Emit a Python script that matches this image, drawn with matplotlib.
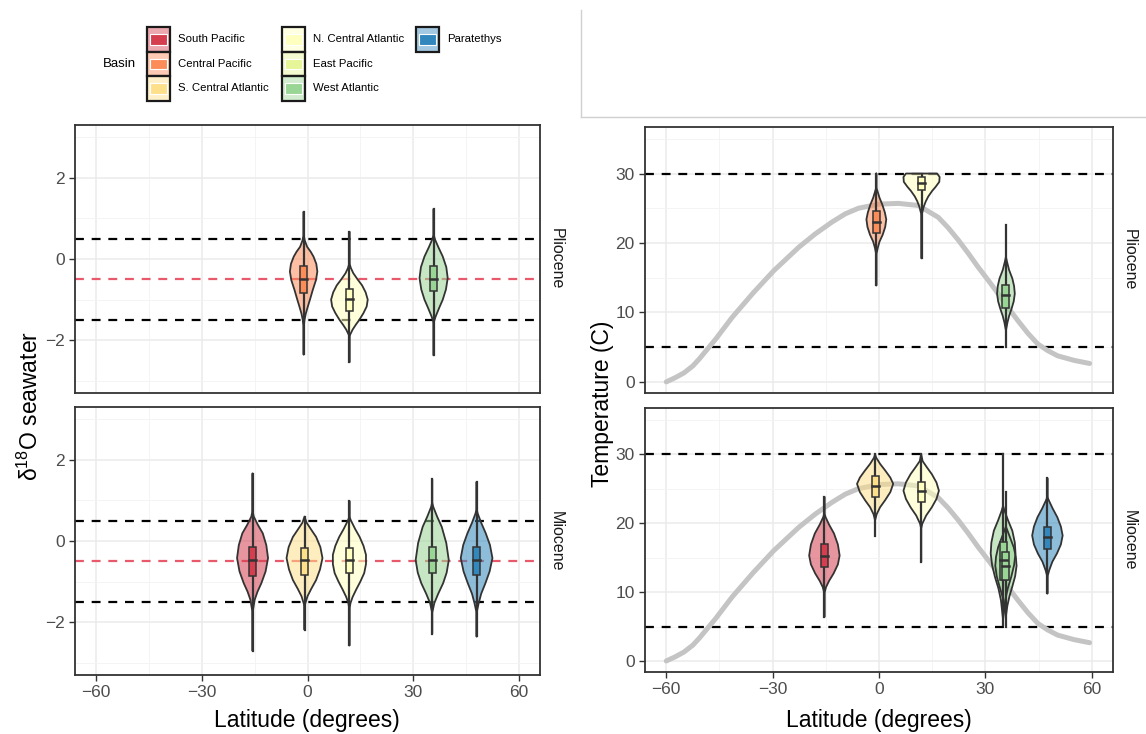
import matplotlib.pyplot as plt
from matplotlib.patches import Polygon, Rectangle
from matplotlib.lines import Line2D

plt.rcParams["font.family"] = ["Liberation Sans", "DejaVu Sans"]
plt.rcParams["mathtext.fontset"] = "custom"
plt.rcParams["mathtext.rm"] = "Liberation Sans"

# --- basins ---
basin_names = [
    "South Pacific", "Central Pacific", "S. Central Atlantic",
    "N. Central Atlantic", "East Pacific", "West Atlantic", "Paratethys",
]
basin_colors = ["#D53E4F", "#FC8D59", "#FEE08B", "#FFFFBF", "#E6F598", "#99D594", "#3288BD"]

# --- temperature profile (grey curve) ---
profile_lat = [-60, -57.5, -55, -52.5, -50.7, -46, -41.4, -35.5, -29.7, -22.6, -18,
               -13.3, -9.5, -5.8, 0, 5.5, 11.1, 16.7, 19.5, 22.4, 25.2, 28.0, 31.0,
               33.6, 36.4, 39.2, 42.0, 44.8, 47.6, 50.4, 55.0, 59.4]
profile_temp = [0.0, 0.6, 1.3, 2.3, 3.3, 6.2, 9.3, 12.8, 16.0, 19.4, 21.3,
                23.0, 24.2, 25.0, 25.6, 25.7, 25.4, 23.7, 22.2, 20.4, 18.5, 16.5, 14.5,
                12.7, 10.7, 8.8, 7.0, 5.45, 4.5, 3.75, 3.1, 2.65]

# --- d18O seawater, Pliocene ---
d18o_plio_basin = ["Central Pacific", "N. Central Atlantic", "West Atlantic"]
d18o_plio_lat = [-1.1, 11.9, 35.8]
d18o_plio_min = [-2.35, -2.54, -2.37]
d18o_plio_max = [1.16, 0.67, 1.23]
d18o_plio_box = [(-0.84, -0.5, -0.17), (-1.27, -0.99, -0.74), (-0.8, -0.5, -0.17)]
d18o_plio_shape = [
    [(0.6, 0), (0.45, 0.35), (0.3, 1.0), (0.18, 2.0), (0.06, 2.8), (-0.12, 3.6), (-0.31, 3.9),
     (-0.52, 3.5), (-0.76, 2.6), (-0.97, 1.9), (-1.17, 1.2), (-1.35, 0.6), (-1.5, 0.25), (-1.7, 0)],
    [(-0.1, 0), (-0.22, 0.4), (-0.35, 1.1), (-0.5, 2.3), (-0.65, 3.6), (-0.82, 4.6), (-1.0, 5.2),
     (-1.17, 4.9), (-1.33, 4.0), (-1.5, 2.8), (-1.62, 1.8), (-1.74, 0.9), (-1.9, 0)],
    [(0.6, 0), (0.47, 0.45), (0.3, 1.3), (0.06, 2.6), (-0.2, 3.6), (-0.47, 4.0), (-0.75, 3.5),
     (-1.0, 2.6), (-1.2, 1.6), (-1.41, 0.6), (-1.57, 0)],
]

# --- d18O seawater, Miocene ---
d18o_mio_basin = ["South Pacific", "S. Central Atlantic", "N. Central Atlantic", "West Atlantic", "Paratethys"]
d18o_mio_lat = [-15.6, -0.85, 11.9, 35.4, 48.0]
d18o_mio_min = [-2.70, -2.18, -2.57, -2.28, -2.35]
d18o_mio_max = [1.66, 0.6, 0.98, 1.52, 1.45]
d18o_mio_box = [(-0.86, -0.47, -0.14), (-0.83, -0.47, -0.18), (-0.8, -0.47, -0.18),
                (-0.8, -0.47, -0.14), (-0.83, -0.47, -0.15)]
d18o_mio_shape = [
    [(0.75, 0), (0.6, 0.35), (0.4, 1.5), (0.19, 2.9), (-0.1, 3.9), (-0.42, 4.4), (-0.75, 3.7),
     (-1.04, 2.5), (-1.25, 1.4), (-1.45, 0.6), (-1.77, 0)],
    [(0.6, 0), (0.45, 0.6), (0.28, 1.9), (0.1, 3.3), (-0.15, 4.5), (-0.42, 5.1), (-0.7, 4.4),
     (-0.96, 3.3), (-1.18, 1.9), (-1.36, 0.85), (-1.6, 0)],
    [(0.6, 0), (0.51, 0.4), (0.3, 1.6), (0.1, 2.9), (-0.12, 4.0), (-0.34, 4.7), (-0.57, 4.7),
     (-0.79, 4.2), (-1.0, 3.1), (-1.2, 1.9), (-1.38, 0.9), (-1.53, 0.3), (-1.69, 0)],
    [(0.95, 0), (0.84, 0.3), (0.6, 1.4), (0.35, 2.7), (-0.05, 4.0), (-0.47, 4.7), (-0.78, 4.1),
     (-1.04, 3.1), (-1.3, 1.7), (-1.53, 0.6), (-1.77, 0)],
    [(0.8, 0), (0.68, 0.3), (0.45, 1.3), (0.19, 2.6), (-0.1, 3.8), (-0.42, 4.5), (-0.75, 3.7),
     (-1.04, 2.5), (-1.3, 1.3), (-1.53, 0.6), (-1.77, 0)],
]

# --- temperature, Pliocene ---
temp_plio_basin = ["Central Pacific", "N. Central Atlantic", "West Atlantic"]
temp_plio_lat = [-0.75, 12.0, 35.8]
temp_plio_min = [13.9, 17.8, 5.0]
temp_plio_max = [30.0, 30.0, 22.55]
temp_plio_box = [(21.4, 23.0, 24.6), (27.6, 28.7, 29.5), (10.65, 12.5, 14.0)]
temp_plio_shape = [
    [(28.0, 0), (27.5, 0.3), (26.5, 0.9), (25.5, 1.7), (24.4, 2.4), (23.4, 2.8), (22.3, 2.5),
     (21.2, 1.8), (20.2, 0.9), (19.3, 0.4), (18.3, 0)],
    [(30.0, 4.4), (29.5, 5.1), (28.8, 5.0), (28.1, 4.0), (27.5, 3.0), (26.7, 1.9), (26.0, 1.2),
     (25.2, 0.6), (24.6, 0.3), (24.0, 0)],
    [(18.0, 0), (17.3, 0.3), (16.1, 0.9), (14.9, 1.8), (13.8, 2.3), (12.7, 2.5), (11.6, 2.2),
     (10.55, 1.6), (9.5, 0.9), (8.6, 0.45), (7.4, 0)],
]

# --- temperature, Miocene ---
temp_mio_basin = ["South Pacific", "S. Central Atlantic", "N. Central Atlantic",
                  "West Atlantic", "West Atlantic", "Paratethys"]
temp_mio_lat = [-15.4, -1.1, 11.9, 35.0, 35.8, 47.5]
temp_mio_min = [6.4, 18.2, 14.35, 5.2, 5.0, 9.8]
temp_mio_max = [23.8, 30.0, 30.0, 30.0, 24.5, 26.5]
temp_mio_box = [(13.6, 15.3, 17.0), (23.8, 25.4, 26.9), (23.0, 24.6, 25.9),
                (11.7, 14.6, 17.2), (11.8, 13.8, 15.8), (16.3, 18.0, 19.5)]
temp_mio_shape = [
    [(21.5, 0), (20.9, 0.3), (19.8, 1.3), (18.5, 2.7), (16.9, 3.8), (15.3, 4.3), (14.0, 3.8),
     (12.7, 2.6), (11.6, 1.3), (10.7, 0.45), (9.8, 0)],
    [(30.0, 0), (29.5, 0.3), (28.6, 1.4), (27.6, 2.9), (26.6, 4.3), (25.7, 5.1), (24.5, 4.3),
     (23.3, 2.8), (22.3, 1.4), (21.3, 0.45), (20.4, 0)],
    [(30.0, 0), (29.0, 0.4), (28.1, 1.6), (27.1, 3.0), (25.9, 4.3), (24.7, 5.0), (23.5, 4.3),
     (22.3, 3.0), (21.1, 1.4), (19.9, 0.3), (19.2, 0)],
    [(22.5, 0), (21.8, 0.4), (20.4, 1.4), (18.9, 2.6), (17.2, 3.3), (15.6, 3.5), (13.9, 3.1),
     (12.2, 2.3), (10.5, 1.3), (8.8, 0.6), (6.9, 0.2), (6.0, 0)],
    [(19.5, 0), (18.0, 1.1), (16.5, 2.2), (15.1, 2.8), (13.8, 3.0), (12.3, 2.6), (10.8, 1.8),
     (9.4, 1.0), (8.0, 0.4), (6.5, 0)],
    [(23.8, 0), (23.3, 0.4), (22.1, 1.5), (20.85, 2.8), (19.5, 3.8), (18.2, 4.3), (16.9, 3.8),
     (15.6, 2.7), (14.4, 1.4), (13.15, 0.5), (12.2, 0)],
]

# reference lines
d18o_black_lines = [0.5, -1.5]
d18o_red_line = -0.5
temp_black_lines = [30, 5]

EDGE = "#333333"
BOX_HALF = 1.0


def color_of(basin):
    return basin_colors[basin_names.index(basin)]


def draw_violins(ax, basins, lats, lows, highs, boxes, shapes):
    for basin, lat, lo, hi, box, shape in zip(basins, lats, lows, highs, boxes, shapes):
        color = color_of(basin)
        # 外形: 上の尾 -> 右側 -> 下の尾 -> 左側
        right = [(lat, hi)] + [(lat + w, y) for y, w in shape] + [(lat, lo)]
        left = [(lat - w, y) for y, w in reversed(shape)]
        ax.add_patch(Polygon(right + left, closed=True, facecolor=color, alpha=0.55,
                             edgecolor="none", zorder=3))
        ax.add_patch(Polygon(right + left, closed=True, facecolor="none",
                             edgecolor=EDGE, lw=1.3, joinstyle="round", zorder=3.1))
        ax.plot([lat, lat], [lo, hi], color=EDGE, lw=1.6, zorder=3.2)
        q1, med, q3 = box
        ax.add_patch(Rectangle((lat - BOX_HALF, q1), 2 * BOX_HALF, q3 - q1,
                               facecolor=color, edgecolor=EDGE, lw=1.1, zorder=4))
        ax.plot([lat - BOX_HALF, lat + BOX_HALF], [med, med], color=EDGE, lw=1.8, zorder=4.1)


def setup_panel(ax, ylim, major, minor, show_x, strip):
    ax.set_xlim(-66, 66)
    ax.set_ylim(ylim)
    ax.set_xticks([-60, -30, 0, 30, 60])
    ax.set_xticks([-45, -15, 15, 45], minor=True)
    ax.set_yticks(major)
    ax.set_yticks(minor, minor=True)
    ax.grid(True, which="major", color="#EBEBEB", lw=1.1)
    ax.grid(True, which="minor", color="#F3F3F3", lw=0.6)
    ax.set_axisbelow(True)
    ax.tick_params(which="minor", length=0)
    ax.tick_params(which="major", length=4, width=1, color=EDGE,
                   labelcolor="#4D4D4D", labelsize=12.5)
    for spine in ax.spines.values():
        spine.set_color(EDGE)
        spine.set_linewidth(1.3)
    if not show_x:
        ax.tick_params(axis="x", which="both", bottom=False, labelbottom=False)
    ax.text(1.034, 0.5, strip, transform=ax.transAxes, rotation=-90,
            ha="center", va="center", fontsize=11.5, color="#1A1A1A")


W, H = 1146, 734
fig = plt.figure(figsize=(W / 100, H / 100), dpi=100)


def px_axes(x0, y0, x1, y1):
    return fig.add_axes([x0 / W, 1 - y1 / H, (x1 - x0) / W, (y1 - y0) / H])


ax_d_plio = px_axes(75, 125, 540, 393)
ax_d_mio = px_axes(75, 407, 540, 675)
ax_t_plio = px_axes(645, 127, 1113, 393)
ax_t_mio = px_axes(645, 408, 1113, 672)

# 左: δ18O
for ax, show_x, strip in [(ax_d_plio, False, "Pliocene"), (ax_d_mio, True, "Miocene")]:
    setup_panel(ax, (-3.3, 3.3), [-2, 0, 2], [-3, -1, 1, 3], show_x, strip)
    for y in d18o_black_lines:
        ax.axhline(y, color="black", lw=1.6, ls=(0, (4, 3.5)), zorder=2)
    ax.axhline(d18o_red_line, color="#E8596B", lw=1.6, ls=(0, (4, 3.5)), zorder=2)

draw_violins(ax_d_plio, d18o_plio_basin, d18o_plio_lat, d18o_plio_min, d18o_plio_max,
             d18o_plio_box, d18o_plio_shape)
draw_violins(ax_d_mio, d18o_mio_basin, d18o_mio_lat, d18o_mio_min, d18o_mio_max,
             d18o_mio_box, d18o_mio_shape)

# 右: 温度
for ax, show_x, strip in [(ax_t_plio, False, "Pliocene"), (ax_t_mio, True, "Miocene")]:
    setup_panel(ax, (-1.6, 36.7), [0, 10, 20, 30], [5, 15, 25, 35], show_x, strip)
    for y in temp_black_lines:
        ax.axhline(y, color="black", lw=1.6, ls=(0, (4, 3.5)), zorder=2)
    ax.plot(profile_lat, profile_temp, color="#C4C4C4", lw=3.6,
            solid_capstyle="round", solid_joinstyle="round", zorder=2.5)

draw_violins(ax_t_plio, temp_plio_basin, temp_plio_lat, temp_plio_min, temp_plio_max,
             temp_plio_box, temp_plio_shape)
draw_violins(ax_t_mio, temp_mio_basin, temp_mio_lat, temp_mio_min, temp_mio_max,
             temp_mio_box, temp_mio_shape)

# 軸ラベル
fig.text(30 / W, 1 - 406 / H, r"δ$^{18}$O seawater", rotation=90, ha="center", va="center",
         fontsize=16.5, color="black")
fig.text(602 / W, 1 - 404 / H, "Temperature (C)", rotation=90, ha="center", va="center",
         fontsize=16.5, color="black")
fig.text(307 / W, 1 - 721 / H, "Latitude (degrees)", ha="center", va="center",
         fontsize=16.5, color="black")
fig.text(879 / W, 1 - 721 / H, "Latitude (degrees)", ha="center", va="center",
         fontsize=16.5, color="black")

# 凡例 (ピクセル座標のオーバーレイ)
overlay = fig.add_axes([0, 0, 1, 1], zorder=10)
overlay.set_xlim(0, W)
overlay.set_ylim(H, 0)
overlay.axis("off")

overlay.text(103, 64, "Basin", ha="left", va="center", fontsize=9.5, color="black")
key_cols = [147, 282, 416]
key_w, key_h, key_top = 23, 24.5, 27
for i, (name, color) in enumerate(zip(basin_names, basin_colors)):
    col, row = divmod(i, 3)
    kx = key_cols[col]
    ky = key_top + row * key_h
    overlay.add_patch(Rectangle((kx, ky), key_w, key_h, facecolor=color, alpha=0.45,
                                edgecolor="none"))
    overlay.add_patch(Rectangle((kx, ky), key_w, key_h, facecolor="none",
                                edgecolor="#1A1A1A", lw=1.6))
    overlay.add_patch(Rectangle((kx + 3, ky + 7), key_w - 6, key_h - 14, facecolor=color,
                                edgecolor="white", lw=0.8))
    overlay.text(kx + key_w + 8, ky + key_h / 2, name, ha="left", va="center",
                 fontsize=8.2, color="black")

# 右上の空白枠
overlay.add_line(Line2D([581, 581], [10, 117], color="#D0D0D0", lw=1))
overlay.add_line(Line2D([581, W], [117, 117], color="#D0D0D0", lw=1))

fig.savefig("out.png", dpi=100)
plt.close(fig)
